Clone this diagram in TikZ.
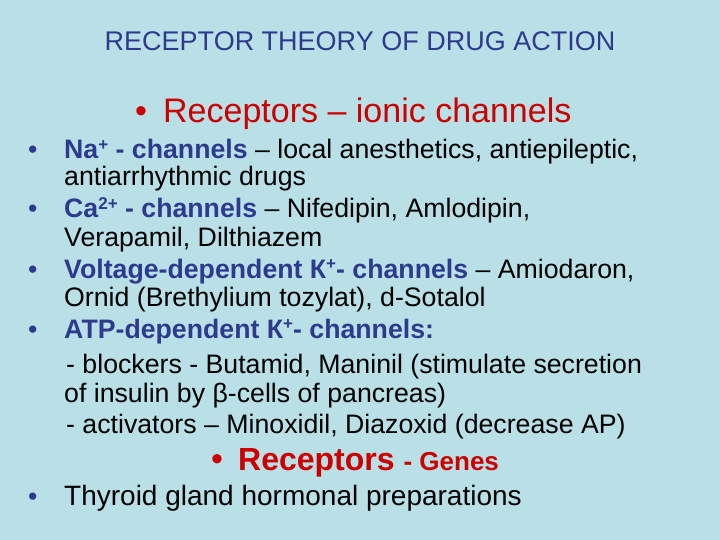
\documentclass[tikz,border=0pt]{standalone}
\usepackage{fontspec}
\setmainfont{Liberation Sans}
\definecolor{bg}{HTML}{B9E0E6}
\definecolor{bl}{HTML}{2E3A8E}
\definecolor{rd}{HTML}{CC0000}
\newcommand{\sups}[1]{\raisebox{0.6ex}{\fontsize{17}{17}\selectfont #1}}
\begin{document}
\begin{tikzpicture}[x=1pt,y=-1pt,
  ln/.style={anchor=base west,inner sep=0pt,font=\fontsize{26.7}{30}\selectfont,text=black},
  bu/.style={anchor=base west,inner sep=0pt,font=\fontsize{26.7}{30}\selectfont,text=bl},
  hd/.style={anchor=base west,inner sep=0pt,font=\fontsize{34}{38}\selectfont,text=rd}]
\fill[bg] (0,0) rectangle (720,540);
\useasboundingbox (0,0) rectangle (720,540);
\node[anchor=base,inner sep=0pt,text=bl,font=\fontsize{27}{32}\selectfont] (title) at (360,51) {RECEPTOR THEORY OF DRUG ACTION};
\node[hd] (b0) at (135,123) {•};
\node[hd] (h1) at (163,123) {Receptors – ionic channels};
\node[bu] (b1) at (28,159) {•};
\node[ln] (l1) at (64,159) {\textcolor{bl}{\textbf{Na\sups{+} - channels}} – local anesthetics, antiepileptic,};
\node[ln] (l2) at (64,186) {antiarrhythmic drugs};
\node[bu] (b2) at (28,218) {•};
\node[ln] (l3) at (64,218) {\textcolor{bl}{\textbf{Ca\sups{2+} - channels}} – Nifedipin, Amlodipin,};
\node[ln] (l4) at (64,246) {Verapamil, Dilthiazem};
\node[bu] (b3) at (28,278) {•};
\node[ln] (l5) at (64,278) {\textcolor{bl}{\textbf{Voltage-dependent К\sups{+}- channels}} – Amiodaron,};
\node[ln] (l6) at (64,306) {Ornid (Brethylium tozylat), d-Sotalol};
\node[bu] (b4) at (28,338) {•};
\node[ln] (l7) at (64,338) {\textcolor{bl}{\textbf{ATP-dependent К\sups{+}- channels:}}};
\node[ln] (l8) at (66,373) {- blockers - Butamid, Maninil (stimulate secretion};
\node[ln] (l9) at (64,402) {of insulin by β-cells of pancreas)};
\node[ln] (l10) at (66,433) {- activators – Minoxidil, Diazoxid (decrease AP)};
\node[hd] (b5) at (211,470) {•};
\node[hd,font=\fontsize{32}{36}\selectfont] (h2) at (238,470) {\textbf{Receptors} {\fontsize{26}{30}\selectfont\textbf{- Genes}}};
\node[bu] (b6) at (28,505) {•};
\node[ln,font=\fontsize{28}{32}\selectfont] (l11) at (64,505) {Thyroid gland hormonal preparations};
\end{tikzpicture}
\end{document}
